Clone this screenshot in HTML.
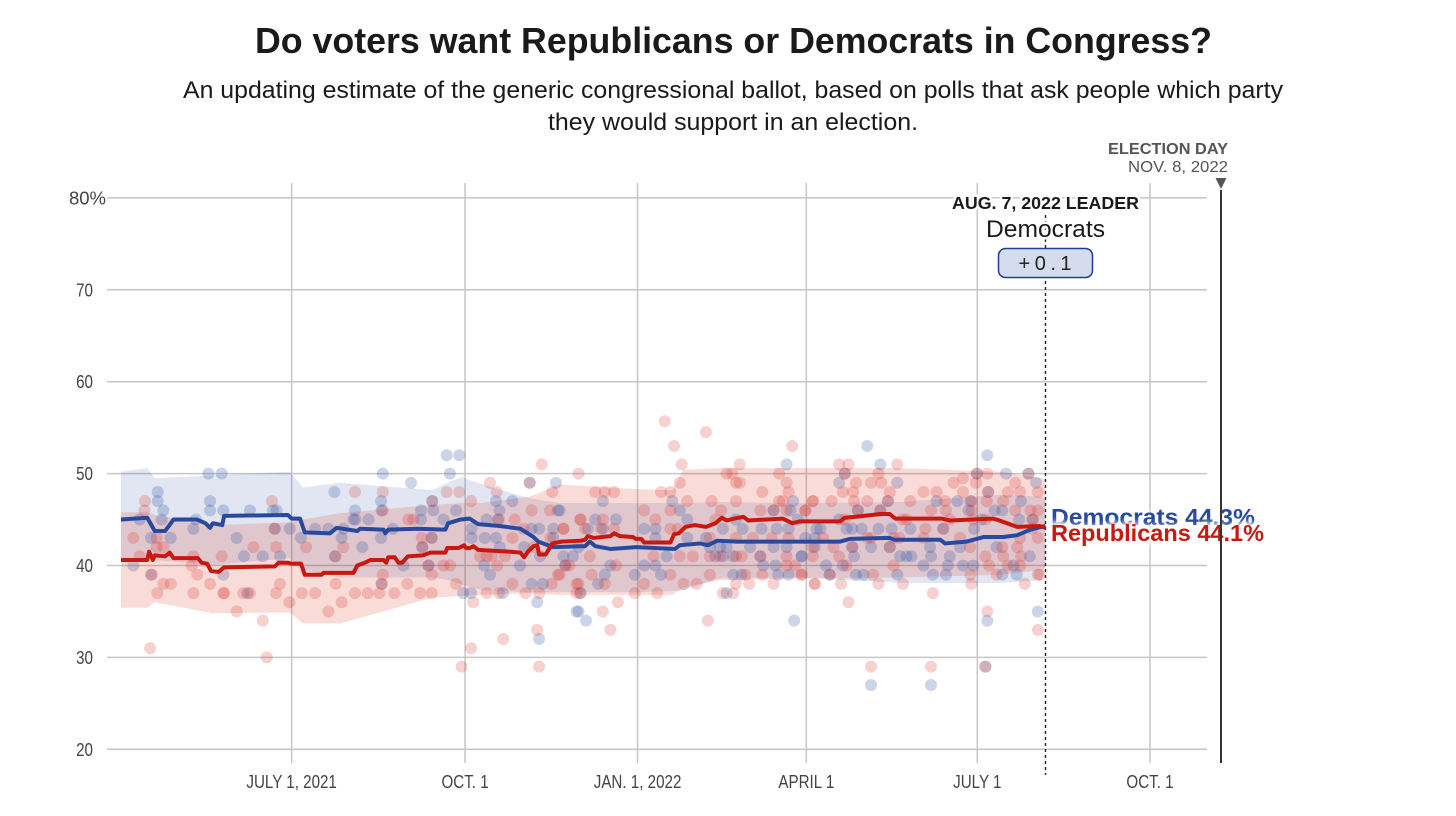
<!DOCTYPE html>
<html lang="en">
<head>
<meta charset="utf-8">
<title>Do voters want Republicans or Democrats in Congress?</title>
<style>
html,body{margin:0;padding:0;background:#fff;}
body{width:1456px;height:816px;overflow:hidden;}
svg{display:block;font-family:"Liberation Sans",sans-serif;}
</style>
</head>
<body>
<svg id="chart" width="1456" height="816" viewBox="0 0 1456 816" xmlns="http://www.w3.org/2000/svg">
  <text x="733.5" y="53" text-anchor="middle" font-size="36" font-weight="700" fill="#1a1a1a" textLength="957" lengthAdjust="spacingAndGlyphs">Do voters want Republicans or Democrats in Congress?</text>
  <text x="733" y="98" text-anchor="middle" font-size="24.5" fill="#1a1a1a" textLength="1100" lengthAdjust="spacingAndGlyphs">An updating estimate of the generic congressional ballot, based on polls that ask people which party</text>
  <text x="733" y="130" text-anchor="middle" font-size="24.5" fill="#1a1a1a" textLength="370" lengthAdjust="spacingAndGlyphs">they would support in an election.</text>

  <g id="grid"></g>
  <g id="axis-labels"></g>
  <g id="bands"></g>
  <g id="dots"></g>
  <g id="lines"></g>

  <line x1="1045.5" y1="215" x2="1045.5" y2="775" stroke="#222" stroke-width="1.4" stroke-dasharray="3 3"/>

  <text x="1228" y="154" text-anchor="end" font-size="16" font-weight="700" fill="#555" textLength="120" lengthAdjust="spacingAndGlyphs">ELECTION DAY</text>
  <text x="1228" y="172" text-anchor="end" font-size="16" fill="#555" textLength="100" lengthAdjust="spacingAndGlyphs">NOV. 8, 2022</text>
  <polygon points="1215.5,178 1226.5,178 1221,189" fill="#555"/>

  <text x="1045.5" y="209" text-anchor="middle" font-size="17.5" font-weight="700" fill="#1a1a1a" stroke="#fff" stroke-width="5" paint-order="stroke" textLength="187" lengthAdjust="spacingAndGlyphs">AUG. 7, 2022 LEADER</text>
  <text x="1045.5" y="237" text-anchor="middle" font-size="24" fill="#1a1a1a" stroke="#fff" stroke-width="5" paint-order="stroke" textLength="119" lengthAdjust="spacingAndGlyphs">Democrats</text>
  <rect x="998.5" y="248.5" width="94" height="29" rx="7" fill="#d5dcee" stroke="#1d3f8f" stroke-width="1.5"/>
  <text x="1045" y="270" text-anchor="middle" font-size="20" fill="#222" textLength="53" lengthAdjust="spacing">+0.1</text>

  <g font-weight="700" font-size="23">
    <text x="1051" y="525" fill="#27499e" textLength="204" lengthAdjust="spacingAndGlyphs" style="filter:drop-shadow(0 0 2px #fff)">Democrats 44.3%</text>
    <text x="1051" y="541" fill="#c8180f" textLength="213" lengthAdjust="spacingAndGlyphs" style="filter:drop-shadow(0 0 3px #fff) drop-shadow(0 0 3px #fff) drop-shadow(0 0 2px #fff)">Republicans 44.1%</text>
  </g>

  <line x1="1221" y1="190" x2="1221" y2="763" stroke="#333" stroke-width="2"/>
</svg>

<script>
// Value-axis ticks (percent)
const yTicks = [20, 30, 40, 50, 60, 70, 80];
const xTickDays = [91, 183.5, 275.5, 365.5, 456.7, 548.8];
const xTickLabels = ["JULY 1, 2021", "OCT. 1", "JAN. 1, 2022", "APRIL 1", "JULY 1", "OCT. 1"];

// Democratic uncertainty band
const demBandDays = [0,14,18,49,90,97,117,166,175,182,193,218,234,277,300,319,362,415,469,491,493];
const demBandHigh = [50.2,50.6,49.5,49.8,50.2,48.5,49.0,48.2,49.1,49.6,48.8,47.3,46.8,46.8,46.8,46.9,46.8,46.9,47.7,47.5,47.1];
const demBandLow = [40.8,40.8,40.6,40.05,40.8,39.5,38.7,38.7,38.4,37.9,37.3,37.1,37.1,37.1,37.3,38.6,38.7,38.1,38.1,38.4,39.8];

// Republican uncertainty band
const repBandDays = [0,14,18,49,90,97,117,166,182,193,218,234,277,294,300,319,362,415,469,491,493];
const repBandHigh = [45.8,45.8,45.5,44.4,44.7,45.0,45.7,46.6,46.8,46.8,47.5,48.8,48.3,48.2,50.4,50.6,50.6,50.6,50.2,49.5,49.3];
const repBandLow = [35.4,35.4,36.0,34.8,34.9,33.7,33.7,36.5,36.7,36.8,37.0,36.8,36.8,36.8,37.6,38.4,38.6,38.7,39.0,39.5,39.8];

// Democratic polling average
const demLineDays = [0,14,18,23.5,28,40.5,45,47.5,49,54,55,89,91,95.5,98,111.5,115,126,127.5,140,141,142.5,158,173,174.5,181,186,190.5,202,213,220,222.5,230.5,245,247.5,250,253,261,275,295.5,298,309,313,318,328.5,373,383.5,389,410,412.5,437,439.5,451,460,470.5,478,485,489,493];
const demLineValues = [45,45.2,43.75,43.75,45,45,44.6,44.1,44.6,44.4,45.4,45.5,45.1,45.1,43.6,43.5,44.1,43.75,44,43.9,43.5,43.9,44,43.9,44.6,45,45.1,44.5,44.3,44,43.1,42.6,42,42.1,42.1,42.6,42.1,41.8,42,41.8,42.2,42.4,42.2,42.7,42.6,42.6,42.6,42.9,43,42.8,42.8,42.4,42.6,43.1,43.1,43.3,43.9,44.1,44.3];

// Republican polling average
const repLineDays = [0,14,15,17,18,23.5,26,28,41,43,46,48,52,55,82,84,89,91,96,98,107,108,124,126,130,133,140,141.5,142.5,146,148,150,153,161,165,173,174,180,183,184,186,188,190.5,208,213,215,217,220,222,223,226.5,230,235,245,247.5,249,252,261,263,266,273,274.5,277.5,279,293,295,297.5,301,306,312,317,320.5,323,327,332,334.5,353,358,362,383.5,386,392,405,410,413,438,442,465,468.5,478,490,493];
const repLineValues = [40.6,40.6,41.5,40.6,41.1,41,41.4,40.8,40.8,40.3,40.2,39.4,39.3,39.8,39.9,40.3,40.3,40.2,40.2,39,39,39.2,39.2,40,40.3,40.6,40.6,40.3,40.9,40.9,40.3,40.3,41,41.1,41.4,41.4,41.9,41.9,42.2,41.9,41.9,42.1,41.7,41.5,41.4,40.9,41.5,42.1,42.2,41.2,41.2,42.4,42.6,42.7,42.8,43.2,43,43.2,43.5,43.2,43.1,42.9,42.9,42.5,42.5,43.4,43.5,44.2,44.4,44.2,44.6,45.2,44.9,45.1,45.3,44.9,45.1,44.6,44.8,44.8,45.2,45.3,45.6,45.6,45.1,45.1,44.9,45.1,44.9,44.2,44.3,44.1];

// Individual polls: Democratic share
const demPollDays = [
46.6,53.7,19.6,19.6,47.5,47.5,54.6,22.6,68.8,81,
83,40,10,21.7,38.6,82,90,16,26.5,61.7,
96,65.6,75.6,84.8,6.6,16,54.6,67.4,113.8,103.5,
110.6,118.6,117.7,124.8,124,125,132,128.7,114,139.6,
138.7,139,138.7,154.7,145,166,160,166.6,160,172,
165.7,160.7,164,139,150.6,173.7,180.4,175.4,178.7,187,
187,182.5,186.7,200,201.8,208.7,218,232,233,195,
201,194,200,202,193.6,196.8,203.6,212.8,219,225,
222,223,243,223,219,230.6,230.6,215,223.5,236,
237,234,257,294,298,253,264,257,249,302,
244,241,261,258,254.5,245,274,279,285,285,
279,285,288,291,244,248,359,355,358.5,348,
357,321,328,331.5,302,312,314,319.5,323,326.5,
317,321,335.5,341,342.5,349,350.5,356,326.5,331,
323,341.6,349.7,356,361,348,355,363,365,370,
371,398,462,405,472,484,456.5,386,488,383,
414,462.5,435,446,453,409,405,393,466,470,
480,479,383,486,373,387,390,395,404,411,
421,438.5,455,370,390,400,410,431.5,442,432,
415.5,419,421.6,447.5,467,484.7,391,363,376,449,
428,441,454.5,476,385,378,392,396,414,433,
440,470,477.7,462,489,400,432,461,459,452];
const demPollValues = [
50,50,48,47,47,46,46,46,46,46,
46,45,45,45,44,44,44,43,43,43,
43,41,41,41,40,39,39,37,48,44,
44,44,43,46,45,45,45,42,41,50,
47,46,43,49,44,47,46,46,45,45,
43,42,40,38,40,52,52,50,46,43,
44,37,37,47,46,47,49,49,46,45,
45,43,43,42,40,39,37,40,38,38,
36,32,35,44,44,44,43,42,41,41,
40,46,47,47,46,45,45,44,44,45,
42,41,40,39,38,37,39,44,44,43,
40,40,39,41,35,34,34,51,47,46,
46,44,45,44,43,43,42,42,42,41,
41,41,42,41,40,40,39,39,39,39,
37,44,44,44,45,42,42,41,43,43,
44,53,52,51,50,50,50,50,49,49,
49,48,47,47,47,47,46,46,46,46,
47,45,45,45,44,44,44,44,44,44,
44,44,44,42,42,42,42,42,41,41,
41,41,41,42,42,41,41,41,40,40,
40,40,40,40,40,39,39,39,39,39,
39,39,39,34,35,27,27,29,45,46];

// Individual polls: Republican share
const repPollDays = [
12.8,12.5,6.6,10,19,19,22.6,16.4,22.6,26.5,
19.4,38.6,15.5,38.6,37.7,40.7,47.5,54.6,55,53.7,
61.7,70.6,65.2,68.8,75.6,77.7,82.7,82.7,84.8,80.5,
82,89.8,96.4,103.5,98.7,110.6,117.7,114.5,114.5,118.6,
124.8,124.8,131.6,137.8,145.8,139.6,139.6,139.6,139,152.7,
159.5,165.7,165.7,153.3,155.9,160.4,165.7,160.7,164,172,
175.5,178.7,173.7,180.4,166,186.7,196.8,200.4,187.9,186.7,
181.7,195,201.6,208.7,215.8,223,203.9,222,223,224.4,
230,219,228.8,218,201.5,210,208.7,191.5,195,197.7,
204.8,200.7,214.6,236,229,233,229.7,237,243,244,
243,245,220,290,312,295,299,330,358,323,
326,328,330,298,355,351,253,258,263,288,
293,342,356,302,315,328,351,353,369,279,
293,320,341,348,365,355,245,257,285,317,
236,247.5,256,263,293,297,234,250,264,251,
244,245,258,274,279,286,293,300,307,314,
321,326.5,328,333,335,342,348,363,370,284,
298,305,314,319.5,328,331,341,355,355,359.5,
369,314,328,337,347,356,239,265,257,261,
313,383,388,414,386,404,456.5,462,484,392,
400,405.5,444,449,456,477,385,390.5,410,428,
435,449,462.5,473,479.5,489,369,379,391,398,
409,421,439.5,453.6,461.7,470.5,365,393,405,432,
440,453.6,477,485,489,454.5,417,442,461,486.5,
386,419,429,438.5,415,400,428,374.5,369,380,
390,398,410,412,447.5,479.5,489,383,480,470.5,
461,452.8,470,387,412,463,473,479.5,378,401,
453,467,489,363,370,384,404,417,453.5,482,
433,388,462,489,400,432,461,490,478,486];
const repPollValues = [
47,46,43,41,43,42,42,39,38,38,
37,37,31,41,40,39,38,37,37,41,
35,42,37,37,34,30,37,42,38,47,
44,36,37,37,42,35,36,38,41,42,
48,37,37,37,37,48,46,39,38,38,
37,37,39,45,45,43,43,42,40,40,
40,38,48,48,47,47,49,48,36,31,
29,37,37,38,37,37,32,33,29,51,
48,46,46,49,45,45,43,41,41,41,
41,40,44,44,43,39,38,40,38,50,
37,45,42,55.7,54.5,53,51,51,53,50,
50,49,49,49,49,50,48,48,48,48,
48,48,48,47,47,47,47,47,47,46,
46,46,46,46,46,46,45,45,45,45,
44,44,44,44,44,44,39,41,40,39,
38,37,38,37,38,37,39,38,38,39,
37,37,38,39,38,39,38,39,38,41,
41,41,41,41,41,41,41,41,40,40,
41,43,43,43,43,43,40,36,35,33,
34,51,51,51,50,50,50,50,50,49,
49,49,49,49.5,49,49,48,48,48,48,
48,48,48,48,48,48,47,47,47,47,
47,47,47,47,47,47,46,46,46,46,
46,46,46,46,46,45,45,45,45,45,
45,45,44,44,43,43,43,43,42,42,
42,43,42,43,43,43,43,41,41,41,
41,42,42,40,40,40,40,40,39,39,
39,39,39,39,38,38,38,38,38,38,
37,36,35,33,29,29,29,39,42,44];

const SVG_NS = "http://www.w3.org/2000/svg";
const startX = 121, pxPerDay = 1.875;
const y40 = 565.5, pxPerPoint = 9.19;
function xScale(day) { return startX + day * pxPerDay; }
function yScale(value) { return y40 - (value - 40) * pxPerPoint; }

function make(tag, parent) {
  const el = document.createElementNS(SVG_NS, tag);
  document.getElementById(parent).appendChild(el);
  return el;
}

// Gridlines and tick labels
yTicks.forEach(function (tick) {
  const gl = make("line", "grid");
  
  
  gl.setAttribute("x1", 107);
  gl.setAttribute("x2", 1207);
  gl.setAttribute("y1", yScale(tick));
  gl.setAttribute("y2", yScale(tick));
  gl.setAttribute("stroke", "#c6c6c6");
  gl.setAttribute("stroke-width", 1.5);

  const isTop = tick === yTicks[yTicks.length - 1];
  const label = make("text", "axis-labels");
  
  
  label.setAttribute("transform", "translate(" + (isTop ? 106 : 93) + "," + (yScale(tick) + 6.5) + ") scale(" + (isTop ? 1 : 0.82) + ",1)");
  label.setAttribute("text-anchor", "end");
  label.setAttribute("font-size", 18.5);
  label.setAttribute("fill", "#444");
  label.textContent = isTop ? tick + "%" : String(tick);
});

xTickDays.forEach(function (day, i) {
  const gl = make("line", "grid");
  
  
  gl.setAttribute("x1", xScale(day));
  gl.setAttribute("x2", xScale(day));
  gl.setAttribute("y1", 183);
  gl.setAttribute("y2", 763);
  gl.setAttribute("stroke", "#c6c6c6");
  gl.setAttribute("stroke-width", 1.5);

  const label = make("text", "axis-labels");
  
  
  label.setAttribute("transform", "translate(" + xScale(day) + ",788) scale(0.82,1)");
  label.setAttribute("text-anchor", "middle");
  label.setAttribute("font-size", 18.5);
  label.setAttribute("fill", "#444");
  label.textContent = xTickLabels[i];
});

// Bands
function bandPoints(days, high, low) {
  const top = days.map(function (d, i) { return xScale(d) + "," + yScale(high[i]); });
  const bottom = days.map(function (d, i) { return xScale(d) + "," + yScale(low[i]); }).reverse();
  return top.concat(bottom).join(" ");
}
const demBand = make("polygon", "bands");


demBand.setAttribute("points", bandPoints(demBandDays, demBandHigh, demBandLow));
demBand.setAttribute("fill", "#2a4fa0");
demBand.setAttribute("fill-opacity", 0.14);

const repBand = make("polygon", "bands");


repBand.setAttribute("points", bandPoints(repBandDays, repBandHigh, repBandLow));
repBand.setAttribute("fill", "#d9281a");
repBand.setAttribute("fill-opacity", 0.17);

// Poll dots
demPollDays.forEach(function (d, i) {
  const dot = make("circle", "dots");
  
  
  dot.setAttribute("cx", xScale(d));
  dot.setAttribute("cy", yScale(demPollValues[i]));
  dot.setAttribute("r", 6);
  dot.setAttribute("fill", "#2a4fa0");
  dot.setAttribute("fill-opacity", 0.24);
});
repPollDays.forEach(function (d, i) {
  const dot = make("circle", "dots");
  
  
  dot.setAttribute("cx", xScale(d));
  dot.setAttribute("cy", yScale(repPollValues[i]));
  dot.setAttribute("r", 6);
  dot.setAttribute("fill", "#d9281a");
  dot.setAttribute("fill-opacity", 0.21);
});

// Average lines
function linePoints(days, values) {
  return days.map(function (d, i) { return xScale(d) + "," + yScale(values[i]); }).join(" ");
}
const demLine = make("polyline", "lines");


demLine.setAttribute("points", linePoints(demLineDays, demLineValues));
demLine.setAttribute("fill", "none");
demLine.setAttribute("stroke", "#27499e");
demLine.setAttribute("stroke-width", 4);
demLine.setAttribute("stroke-linejoin", "round");

const repLine = make("polyline", "lines");


repLine.setAttribute("points", linePoints(repLineDays, repLineValues));
repLine.setAttribute("fill", "none");
repLine.setAttribute("stroke", "#c8180f");
repLine.setAttribute("stroke-width", 4);
repLine.setAttribute("stroke-linejoin", "round");
</script>
</body>
</html>
